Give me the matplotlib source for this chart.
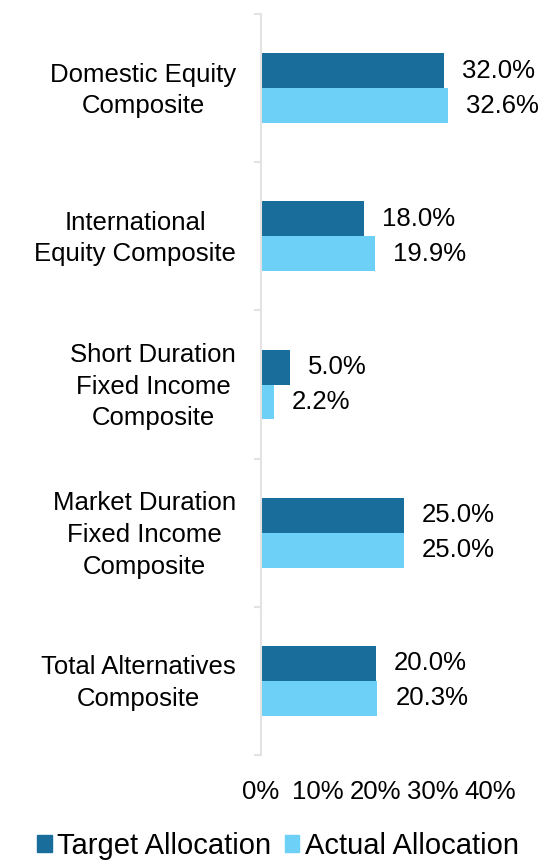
import matplotlib
matplotlib.use("Agg")
import matplotlib.pyplot as plt
from matplotlib.patches import Patch
from matplotlib.ticker import FuncFormatter
from matplotlib.transforms import ScaledTranslation
import numpy as np

plt.rcParams['font.family'] = ['Liberation Sans', 'DejaVu Sans']

categories = ["Domestic Equity\nComposite",
              "International\nEquity Composite",
              "Short Duration\nFixed Income\nComposite",
              "Market Duration\nFixed Income\nComposite",
              "Total Alternatives\nComposite"]
target = [32.0, 18.0, 5.0, 25.0, 20.0]
actual = [32.6, 19.9, 2.2, 25.0, 20.3]
series_names = ["Target Allocation", "Actual Allocation"]
xticks = [0, 10, 20, 30, 40]

dark = "#186D9A"
light = "#6DD0F6"
FS = 18.5

fig = plt.figure(figsize=(5.43, 8.61), dpi=100)
ax = fig.add_axes([261/543, 1-755/861, 229/543, 741/861])

n = len(categories)
y = np.arange(n)
h = 0.236
ax.barh(y - h/2, target, height=h, color=dark)
ax.barh(y + h/2, actual, height=h, color=light)

for i in range(n):
    ax.annotate(f"{target[i]:.1f}%", (target[i], y[i] - h/2), xytext=(13, 0),
                textcoords="offset points", va="center", ha="left", fontsize=FS)
    ax.annotate(f"{actual[i]:.1f}%", (actual[i], y[i] + h/2), xytext=(13, 0),
                textcoords="offset points", va="center", ha="left", fontsize=FS)

ax.set_ylim(n - 0.5, -0.5)
ax.set_xlim(0, 40)
ax.set_yticks(y)
ax.set_yticklabels(categories, fontsize=FS, multialignment="center", linespacing=1.4)
ax.tick_params(axis="y", which="major", length=0, pad=18)
ax.set_yticks(np.arange(-0.5, n, 1.0), minor=True)
ax.tick_params(axis="y", which="minor", length=5, width=1.5, color="#e3e3e3")

ax.set_xticks(xticks)
ax.xaxis.set_major_formatter(FuncFormatter(lambda v, p: f"{v:.0f}%"))
ax.tick_params(axis="x", length=0, pad=18, labelsize=FS)

for s in ["top", "right", "bottom"]:
    ax.spines[s].set_visible(False)
ax.spines["left"].set_color("#e3e3e3")
ax.spines["left"].set_linewidth(1.5)

handles = [Patch(color=dark), Patch(color=light)]
fig.legend(handles, series_names, loc="center", bbox_to_anchor=(278/543, 1-846/861),
           ncol=2, frameon=False, fontsize=21, handlelength=0.5, handleheight=0.5,
           handletextpad=0.2, columnspacing=0.45, borderaxespad=0, borderpad=0)

shift = ScaledTranslation(0, 4/100, fig.dpi_scale_trans)
for lab in ax.get_yticklabels():
    lab.set_transform(lab.get_transform() + shift)

fig.savefig("out.png", dpi=100)
